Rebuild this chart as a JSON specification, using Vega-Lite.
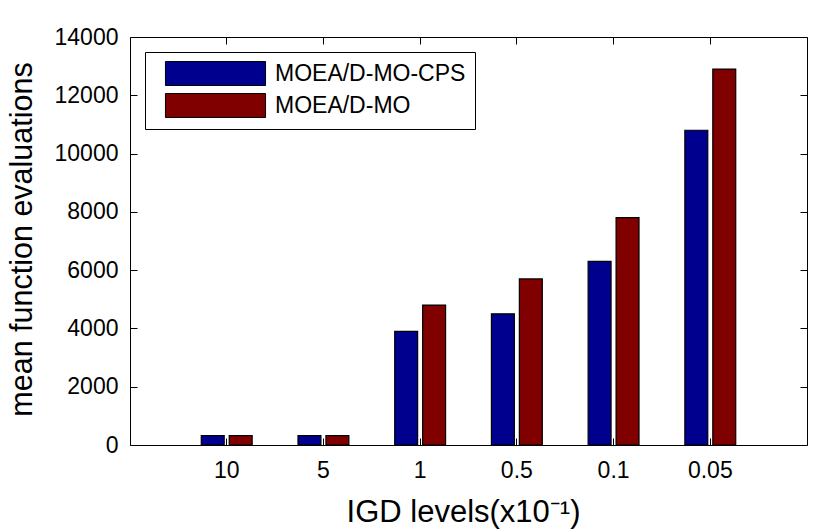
{
  "$schema": "https://vega.github.io/schema/vega-lite/v6.json",
  "width": 677,
  "height": 408,
  "autosize": "none",
  "padding": {"left": 130, "top": 37, "right": 23, "bottom": 87},
  "background": "white",
  "config": {
    "font": "Liberation Sans",
    "view": {"stroke": "black", "strokeWidth": 1},
    "axis": {
      "domain": false,
      "grid": false,
      "tickColor": "black",
      "tickSize": -7,
      "tickWidth": 1,
      "labelColor": "black",
      "labelFont": "Liberation Sans",
      "labelFontSize": 23,
      "titleColor": "black",
      "titleFont": "Liberation Sans",
      "titleFontWeight": "normal"
    },
    "legend": {
      "orient": "none",
      "legendX": 15,
      "legendY": 15,
      "strokeColor": "black",
      "fillColor": "white",
      "padding": 9,
      "cornerRadius": 0,
      "symbolType": "M-4.17,-1H4.17V1H-4.17Z",
      "symbolSize": 576,
      "symbolOffset": 49,
      "symbolStrokeColor": "black",
      "symbolStrokeWidth": 1,
      "symbolOpacity": 1,
      "labelFont": "Liberation Sans",
      "labelFontSize": 23,
      "labelColor": "black",
      "labelOffset": 47,
      "labelLimit": 0,
      "rowPadding": 3
    }
  },
  "data": {
    "values": [
      {"level": "10", "algorithm": "MOEA/D-MO-CPS", "evals": 320},
      {"level": "10", "algorithm": "MOEA/D-MO", "evals": 320},
      {"level": "5", "algorithm": "MOEA/D-MO-CPS", "evals": 320},
      {"level": "5", "algorithm": "MOEA/D-MO", "evals": 320},
      {"level": "1", "algorithm": "MOEA/D-MO-CPS", "evals": 3900},
      {"level": "1", "algorithm": "MOEA/D-MO", "evals": 4800},
      {"level": "0.5", "algorithm": "MOEA/D-MO-CPS", "evals": 4500},
      {"level": "0.5", "algorithm": "MOEA/D-MO", "evals": 5700},
      {"level": "0.1", "algorithm": "MOEA/D-MO-CPS", "evals": 6300},
      {"level": "0.1", "algorithm": "MOEA/D-MO", "evals": 7800},
      {"level": "0.05", "algorithm": "MOEA/D-MO-CPS", "evals": 10800},
      {"level": "0.05", "algorithm": "MOEA/D-MO", "evals": 12900}
    ]
  },
  "layer": [
    {
      "mark": {"type": "bar", "stroke": "black", "strokeWidth": 1.2},
      "encoding": {
        "x": {
          "field": "level",
          "type": "nominal",
          "sort": null,
          "scale": {"domain": ["10", "5", "1", "0.5", "0.1", "0.05"], "paddingInner": 0, "paddingOuter": 0.5},
          "axis": {
            "orient": "bottom",
            "labelAngle": 0,
            "labelPadding": 21,
            "title": "IGD levels(x10⁻¹)",
            "titleFontSize": 31,
            "titleX": 333,
            "titleY": 76,
            "titleBaseline": "alphabetic",
            "titleAnchor": "middle"
          }
        },
        "xOffset": {
          "field": "algorithm",
          "type": "nominal",
          "sort": null,
          "scale": {"domain": ["MOEA/D-MO-CPS", "MOEA/D-MO"], "paddingInner": 0.18, "paddingOuter": 0.82}
        },
        "y": {
          "field": "evals",
          "type": "quantitative",
          "scale": {"domain": [0, 14000], "nice": false},
          "axis": {
            "orient": "left",
            "values": [0, 2000, 4000, 6000, 8000, 10000, 12000, 14000],
            "format": "d",
            "labelPadding": 19,
            "title": "mean function evaluations",
            "titleFontSize": 30.5,
            "titleX": -99,
            "titleY": 202,
            "titleBaseline": "alphabetic",
            "titleAnchor": "middle"
          }
        },
        "color": {
          "field": "algorithm",
          "type": "nominal",
          "sort": null,
          "scale": {"domain": ["MOEA/D-MO-CPS", "MOEA/D-MO"], "range": ["#00008F", "#800000"]},
          "legend": {"title": null}
        }
      }
    },
    {
      "mark": {"type": "bar", "opacity": 0},
      "encoding": {
        "x": {
          "field": "level",
          "type": "nominal",
          "sort": null,
          "axis": {"orient": "top", "labels": false, "title": null}
        },
        "xOffset": {"field": "algorithm", "type": "nominal", "sort": null},
        "y": {
          "field": "evals",
          "type": "quantitative",
          "axis": {"orient": "right", "values": [0, 2000, 4000, 6000, 8000, 10000, 12000, 14000], "labels": false, "title": null}
        }
      }
    }
  ],
  "resolve": {"axis": {"x": "independent", "y": "independent"}}
}
